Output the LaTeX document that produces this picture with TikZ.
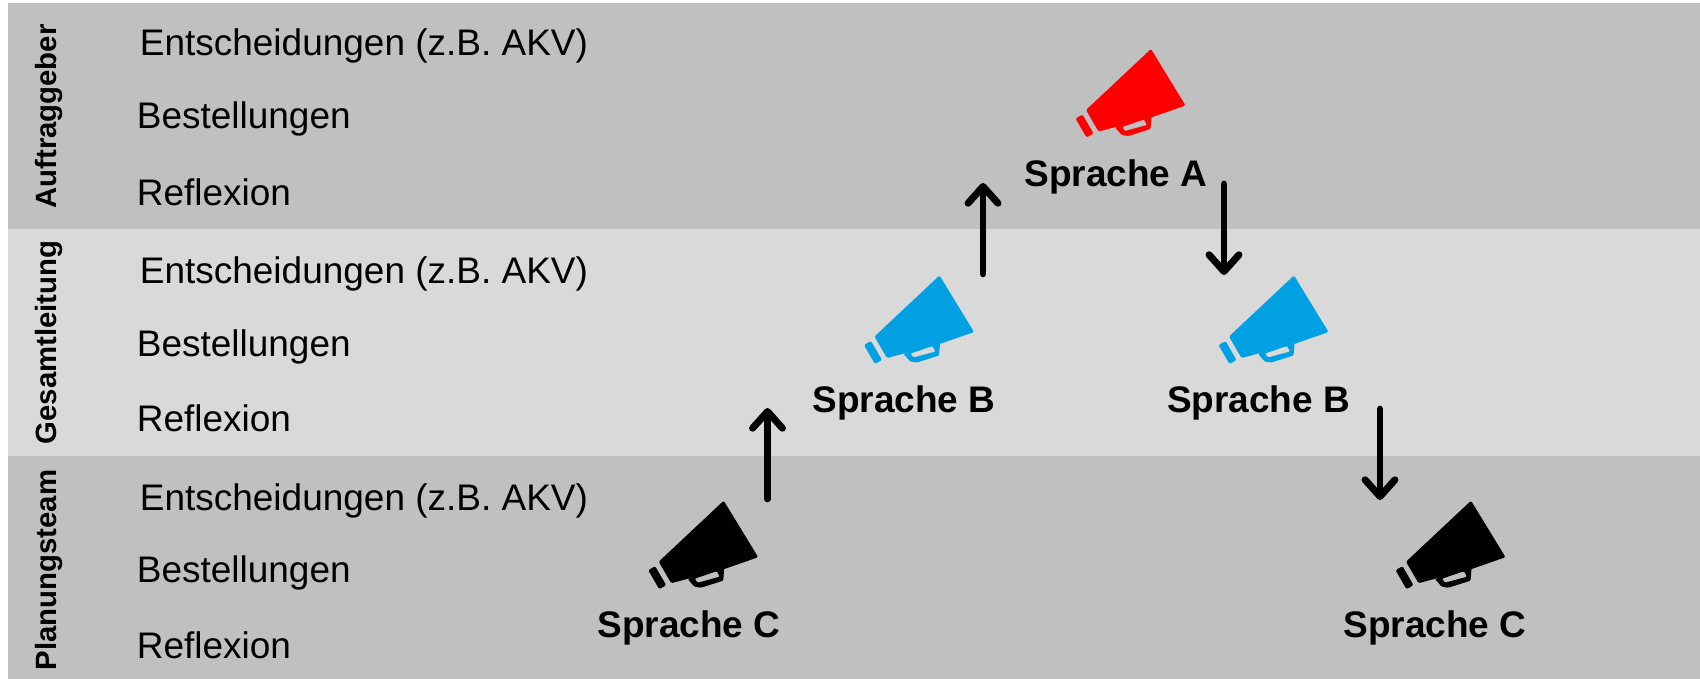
\documentclass[tikz,border=0pt]{standalone}
\usepackage{fontspec}
\setmainfont{Liberation Sans}
\usetikzlibrary{arrows.meta}
\definecolor{banddark}{HTML}{C0C0C0}
\definecolor{bandlight}{HTML}{D9D9D9}
\definecolor{hornblue}{HTML}{00A0E3}
\tikzset{
  rowtext/.style={anchor=base west,inner sep=0pt,font=\fontsize{21.05}{24}\selectfont,text=black},
  spr/.style={anchor=base,inner sep=0pt,font=\fontsize{21.05}{24}\selectfont\bfseries,text=black},
  grp/.style={anchor=base,rotate=90,inner sep=0pt,font=\fontsize{16.7}{20}\selectfont\bfseries,text=black},
  flow/.style={line width=3.8pt,line cap=round,-{Straight Barb[length=9.5pt,width=17pt,line width=4pt,round]}},
  pics/horn/.style={code={
    \fill[#1,rounded corners=0.8pt] (91,9) -- (125.5,65.5) -- (91.7,77.3) -- (38.5,91.5) -- (26,70) -- cycle;
    \fill[#1,even odd rule,rounded corners=0.6pt]
      (55,87.3) -- (61.7,95) -- (68.3,96) -- (90.5,89) -- (91.7,75) -- cycle
      (62,87) -- (84,79.5) -- (87,85) -- (65,91) -- cycle;
    \fill[#1,rounded corners=0.8pt] (15.5,78.5) -- (22.5,74.5) -- (33.5,93.5) -- (26.5,97.5) -- cycle;
  }}
}
\begin{document}
\begin{tikzpicture}[x=0.02cm,y=-0.02cm]
\useasboundingbox (0,0) rectangle (1700,679);
\fill[white] (0,0) rectangle (1700,679);
\fill[banddark] (8,3) rectangle (1700,229);
\fill[bandlight] (8,229) rectangle (1700,456);
\fill[banddark] (8,456) rectangle (1700,679);

\node[grp] (g1) at (56.5,116.5) {Auftraggeber};
\node[grp] (g2) at (56.5,342.5) {Gesamtleitung};
\node[grp] (g3) at (56.5,570) {Planungsteam};

\node[rowtext] (e1) at (139.5,55.5) {Entscheidungen (z.B. AKV)};
\node[rowtext] (b1) at (136.5,129) {Bestellungen};
\node[rowtext] (r1) at (136.5,205) {Reflexion};
\node[rowtext] (e2) at (139.5,283.5) {Entscheidungen (z.B. AKV)};
\node[rowtext] (b2) at (136.5,356) {Bestellungen};
\node[rowtext] (r2) at (136.5,431.5) {Reflexion};
\node[rowtext] (e3) at (139.5,510.5) {Entscheidungen (z.B. AKV)};
\node[rowtext] (b3) at (136.5,582.5) {Bestellungen};
\node[rowtext] (r3) at (136.5,658.5) {Reflexion};

\pic at (1060,40) {horn=red};
\pic at (848.5,266.5) {horn=hornblue};
\pic at (1203,266.5) {horn=hornblue};
\pic at (632.7,491.7) {horn=black};
\pic at (1380,491.7) {horn=black};

\node[spr] (sa) at (1116,186.5) {Sprache A};
\node[spr] (sb1) at (904,412) {Sprache B};
\node[spr] (sb2) at (1258.5,412) {Sprache B};
\node[spr] (sc1) at (689,637.5) {Sprache C};
\node[spr] (sc2) at (1435,637.5) {Sprache C};

\coordinate (u1s) at (767.5,499);
\coordinate (u1e) at (767.5,408);
\coordinate (u2s) at (983,274);
\coordinate (u2e) at (983,183);
\coordinate (d1s) at (1224,184);
\coordinate (d1e) at (1224,275);
\coordinate (d2s) at (1380,409);
\coordinate (d2e) at (1380,500);
\draw[flow] (u1s) -- (u1e);
\draw[flow] (u2s) -- (u2e);
\draw[flow] (d1s) -- (d1e);
\draw[flow] (d2s) -- (d2e);
\end{tikzpicture}
\end{document}
